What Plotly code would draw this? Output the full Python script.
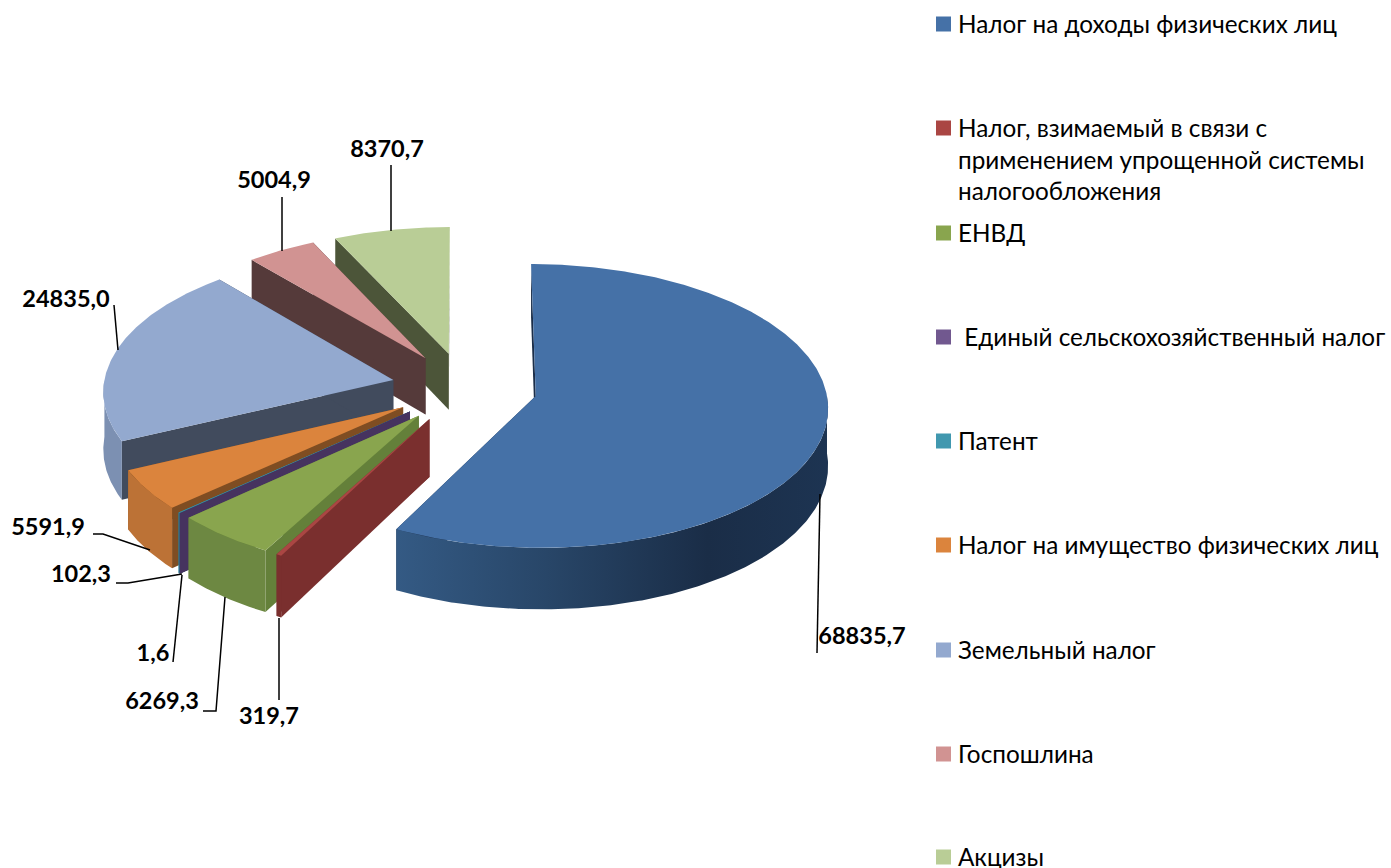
import math
import plotly.graph_objects as go

CATEGORIES = ["Налог на доходы физических лиц",
              "Налог, взимаемый в связи с<br>применением упрощенной системы<br>налогообложения",
              "ЕНВД",
              "\u00a0Единый сельскохозяйственный налог",
              "Патент",
              "Налог на имущество физических лиц",
              "Земельный налог",
              "Госпошлина",
              "Акцизы"]
VALUES = [68835.7, 319.7, 6269.3, 1.6, 102.3, 5591.9, 24835.0, 5004.9, 8370.7]

TOP_COLORS = ["#4571A7", "#AA4643", "#89A54E", "#71588F", "#4198AF", "#DB843D", "#93A9CF", "#D19392", "#B9CD96"]
CUT_COLORS = ["#1B2E49", "#7A2F2E", "#64803A", "#46335F", "#2B7F96", "#7F4D22", "#414B5D", "#553A3A", "#4C5539"]
RIM_COLORS = ["#2A4A6E", "#7A2F2E", "#6D8842", "#46335F", "#2B7F96", "#BC7236", "#7C90B2", "#8F6463", "#7F8F66"]
BIG_RIM_SCALE = [[0, "#345A84"], [0.35, "#284668"], [0.72, "#1A2D47"], [1, "#1D3452"]]

LEG_Y = [24, 128, 233, 337, 441, 545, 650, 754, 857]
LABEL_POS = [(862, 638), (269, 718), (162, 703), (153, 655), (81, 576), (48, 529), (66, 301), (274, 182), (387, 151)]
LEADERS = [[(817, 653), (820, 494)],
           [(279, 700), (279, 618)],
           [(203, 711), (216, 711), (225, 597)],
           [(173, 662), (182, 575)],
           [(116, 583), (128, 583), (182, 574)],
           [(93, 534), (103, 534), (150, 550)],
           [(114, 305), (118, 350)],
           [(282, 197), (282, 251)],
           [(391, 165), (391, 231)]]

CX, CY, RX, RY, EXPL, DEPTH, Q = 464.5, 387.5, 290.0, 140.0, 0.252, 57.0, 0.07
FONT = "Lato, 'Open Sans', sans-serif"


def proj(X, Y, depth=0.0):
    bx, by = X * RX, -Y * RY
    s = 1.0 / (1.0 - Q * by / RY)
    return CX + bx * s, CY + (by + depth) * s


def local(bis, theta):
    ox, oy = EXPL * math.sin(math.radians(bis)), EXPL * math.cos(math.radians(bis))
    return ox + math.sin(math.radians(theta)), oy + math.cos(math.radians(theta))


def apex(bis):
    return EXPL * math.sin(math.radians(bis)), EXPL * math.cos(math.radians(bis))


def arc(a, b):
    n = max(2, int(abs(b - a) * 2))
    return [a + (b - a) * i / n for i in range(n + 1)]


def poly(fig, pts, color, gradient=None):
    xs = [p[0] for p in pts] + [pts[0][0]]
    ys = [p[1] for p in pts] + [pts[0][1]]
    kw = dict(fillgradient=gradient) if gradient else dict(fillcolor=color)
    fig.add_trace(go.Scatter(x=xs, y=ys, mode="lines", fill="toself", line=dict(width=0, color=color),
                             hoverinfo="skip", showlegend=False, **kw))


fig = go.Figure()
total = sum(VALUES)
angles = []
cur = 0.0
for v in VALUES:
    angles.append((cur, cur + v / total * 360))
    cur += v / total * 360

for i in range(len(VALUES) - 1, -1, -1):
    a, b = angles[i]
    bis = (a + b) / 2
    A = apex(bis)
    # cut faces
    for th in (a, b):
        E = local(bis, th)
        poly(fig, [proj(*A), proj(*E), proj(*E, DEPTH), proj(*A, DEPTH)], CUT_COLORS[i])
    # rim
    ra, rb = max(a, 90), min(b, 270)
    if rb > ra:
        ths = arc(ra, rb)
        pts = [proj(*local(bis, t)) for t in ths] + [proj(*local(bis, t), DEPTH) for t in reversed(ths)]
        grad = dict(type="horizontal", colorscale=BIG_RIM_SCALE) if i == 0 else None
        poly(fig, pts, RIM_COLORS[i], grad)
    # top
    pts = [proj(*A)] + [proj(*local(bis, t)) for t in arc(a, b)]
    poly(fig, pts, TOP_COLORS[i])

# leader lines
for seg in LEADERS:
    fig.add_trace(go.Scatter(x=[p[0] for p in seg], y=[p[1] for p in seg], mode="lines",
                             line=dict(color="#000000", width=1.5), hoverinfo="skip", showlegend=False))

# value labels
fig.add_trace(go.Scatter(x=[p[0] for p in LABEL_POS], y=[p[1] for p in LABEL_POS], mode="text",
                         text=[f"<b>{v:.1f}</b>".replace(".", ",") for v in VALUES],
                         textposition="middle center",
                         textfont=dict(family=FONT, size=23.5, color="#000000"),
                         hoverinfo="skip", showlegend=False))

# legend
fig.add_trace(go.Scatter(x=[943.5] * len(LEG_Y), y=LEG_Y, mode="markers",
                         marker=dict(symbol="square", size=15, color=TOP_COLORS, line=dict(width=0)),
                         hoverinfo="skip", showlegend=False))
annotations = []
for name, y in zip(CATEGORIES, LEG_Y):
    annotations.append(dict(x=958, y=y - 15, xref="x", yref="y", text=name, showarrow=False,
                            xanchor="left", yanchor="top", align="left", borderpad=0, borderwidth=0,
                            font=dict(family=FONT, size=24.3, color="#000000")))

fig.update_layout(width=1391, height=868, margin=dict(l=0, r=0, t=0, b=0),
                  paper_bgcolor="#FFFFFF", plot_bgcolor="#FFFFFF", showlegend=False,
                  annotations=annotations,
                  xaxis=dict(range=[0, 1391], visible=False, fixedrange=True),
                  yaxis=dict(range=[868, 0], visible=False, fixedrange=True))
fig.write_html("out.html", config=dict(displayModeBar=False),
               post_script="document.body.style.margin='0';document.body.style.overflow='hidden';")
